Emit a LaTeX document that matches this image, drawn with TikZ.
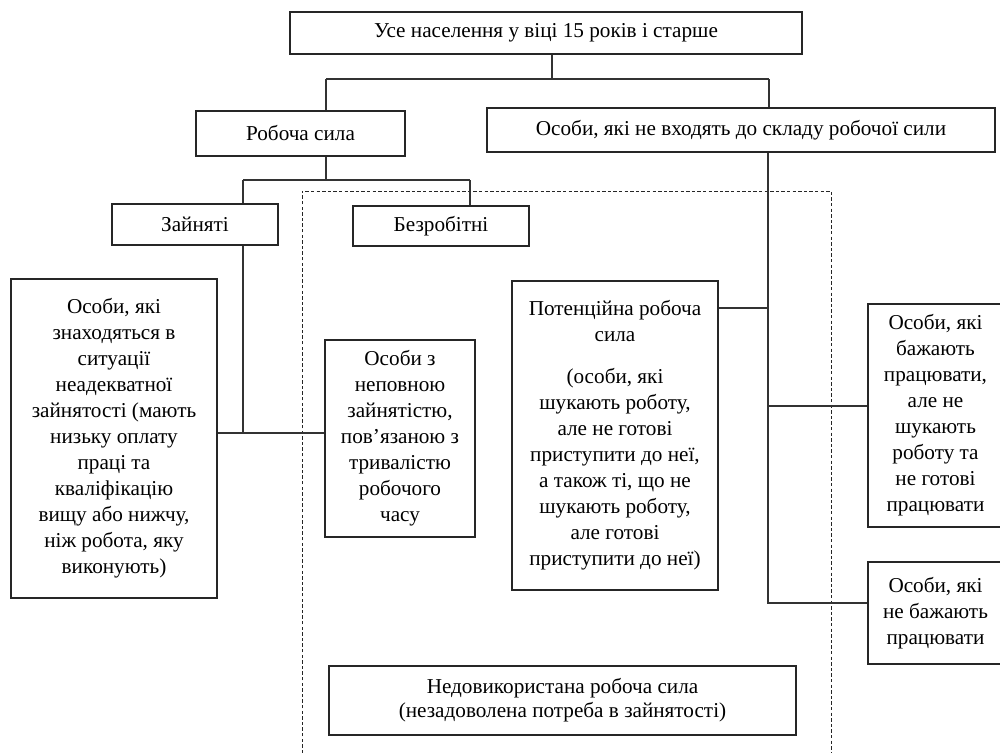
\documentclass[tikz,border=0pt]{standalone}
\usepackage{fontspec}
\setmainfont{Liberation Serif}
\begin{document}
\begin{tikzpicture}[x=0.75pt,y=-0.75pt,
  box/.style={draw=black!85, line width=0.8pt, align=center, inner sep=0pt, font=\fontsize{15.9}{19.5}\selectfont},
  tight/.style={font=\fontsize{15.9}{18}\selectfont},
  conn/.style={draw=black!80, line width=0.8pt},
  dashbox/.style={draw=black!85, line width=0.7pt, dash pattern=on 2.6pt off 1.6pt}]
\useasboundingbox (0,0) rectangle (1000,753);
\clip (0,0) rectangle (1000,753);
% dashed region
\draw[dashbox] (302,770) |- (831,191) -- (831,770);
% boxes
\node[box, minimum width=384pt, minimum height=31.5pt] (top) at (546,33) {Усе населення у віці 15 років і старше};
\node[box, minimum width=156.75pt, minimum height=33.75pt] (rs) at (300.5,133.5) {Робоча сила};
\node[box, minimum width=381pt, minimum height=33pt] (nf) at (741,130) {Особи, які не входять до складу робочої сили};
\node[box, minimum width=124.5pt, minimum height=30.75pt] (zai) at (195,224.5) {Зайняті};
\node[box, minimum width=132pt, minimum height=30pt] (bez) at (441,226) {Безробітні};
\node[box, minimum width=154.5pt, minimum height=239.25pt] (L) at (114,438.5) {Особи, які\\знаходяться в\\ситуації\\неадекватної\\зайнятості (мають\\низьку оплату\\праці та\\кваліфікацію\\вищу або нижчу,\\ніж робота, яку\\виконують)};
\node[box, minimum width=112.5pt, minimum height=147.75pt] (nep) at (400,438.5) {Особи з\\неповною\\зайнятістю,\\пов’язаною з\\тривалістю\\робочого\\часу};
\node[box, minimum width=154.5pt, minimum height=231.75pt] (pot) at (615,435.5) {Потенційна робоча\\сила\\[12pt](особи, які\\шукають роботу,\\але не готові\\приступити до неї,\\а також ті, що не\\шукають роботу,\\але готові\\приступити до неї)};
\node[box, minimum width=101.25pt, minimum height=167.25pt] (wb) at (935.5,415.5) {Особи, які\\бажають\\працювати,\\але не\\шукають\\роботу та\\не готові\\працювати};
\node[box, minimum width=101.25pt, minimum height=76.5pt] (nw) at (935.5,613) {Особи, які\\не бажають\\працювати};
\node[box, tight, minimum width=350.25pt, minimum height=51.75pt] (und) at (562.5,700.5) {Недовикористана робоча сила\\(незадоволена потреба в зайнятості)};
% junctions
\coordinate (j0) at (552,79);
\coordinate (j1) at (326,79);
\coordinate (j2) at (769,79);
\coordinate (k0) at (326,180);
\coordinate (k1) at (243,180);
\coordinate (k2) at (470,180);
\coordinate (m0) at (243,433);
\coordinate (p0) at (768,308);
\coordinate (q0) at (768,406);
\coordinate (v0) at (768,603);
% connectors
\draw[conn] (top.south -| j0) -- (j0);
\draw[conn] (j1) -- (j2);
\draw[conn] (j1) -- (j1 |- rs.north);
\draw[conn] (j2) -- (j2 |- nf.north);
\draw[conn] (rs.south -| k0) -- (k0);
\draw[conn] (k1) -- (k2);
\draw[conn] (k1) -- (k1 |- zai.north);
\draw[conn] (k2) -- (k2 |- bez.north);
\draw[conn] (zai.south -| m0) -- (m0);
\draw[conn] (L.east |- m0) -- (nep.west |- m0);
\draw[conn] (nf.south -| v0) -- (v0) -- (nw.west |- v0);
\draw[conn] (pot.east |- p0) -- (p0);
\draw[conn] (q0) -- (wb.west |- q0);
\end{tikzpicture}
\end{document}
